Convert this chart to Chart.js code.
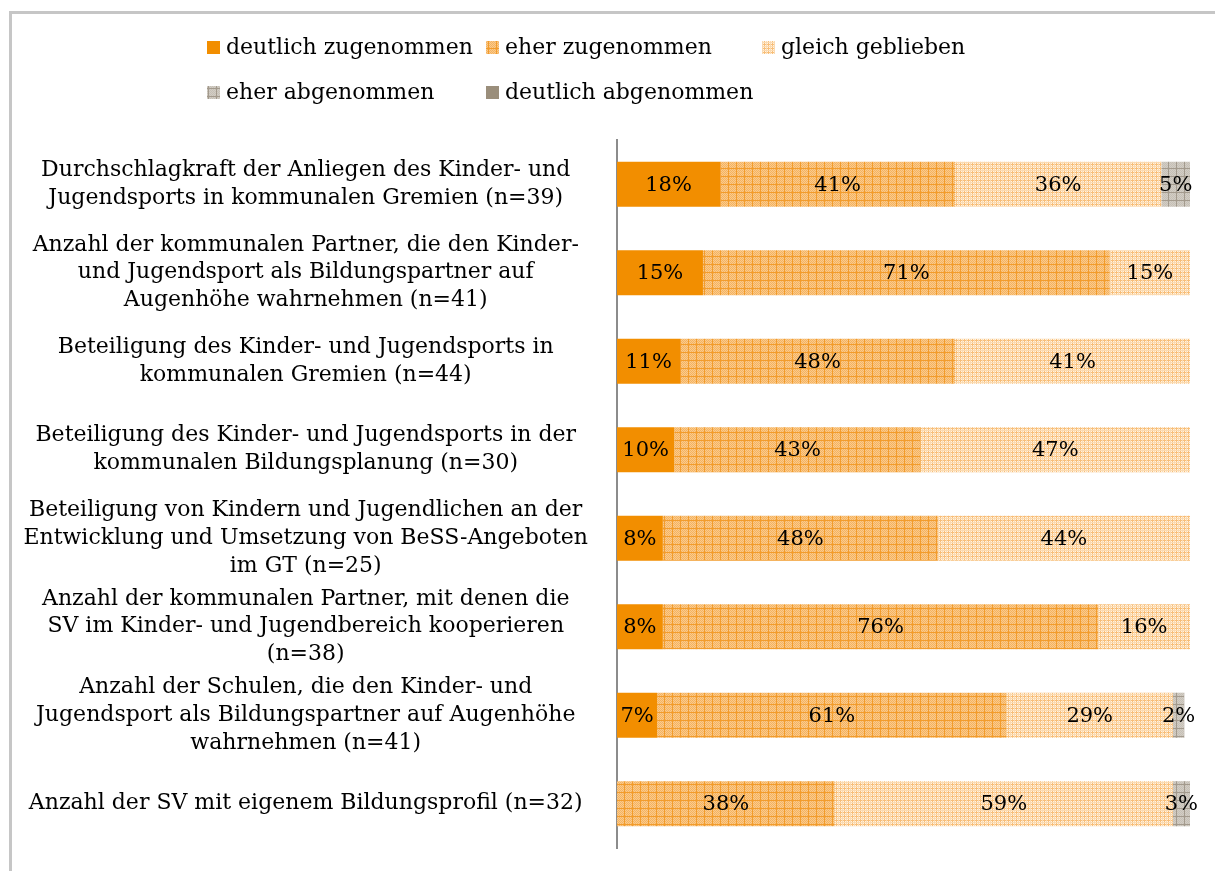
<!DOCTYPE html>
<html lang="de">
<head>
<meta charset="utf-8">
<title>Veränderungen in der kommunalen Zusammenarbeit</title>
<script src="https://cdn.jsdelivr.net/npm/chart.js@4.4.1/dist/chart.umd.min.js"></script>
<style>
  html, body { margin: 0; padding: 0; background: #ffffff; }
  #wrap { position: relative; width: 1215px; height: 871px; }
</style>
</head>
<body>
<div id="wrap"><canvas id="chart" width="1215" height="871"></canvas></div>
<script>
// Kategorien (jeweils zeilenweise umbrochen)
const categories = [
  ['Durchschlagkraft der Anliegen des Kinder- und', 'Jugendsports in kommunalen Gremien (n=39)'],
  ['Anzahl der kommunalen Partner, die den Kinder-', 'und Jugendsport als Bildungspartner auf', 'Augenhöhe wahrnehmen (n=41)'],
  ['Beteiligung des Kinder- und Jugendsports in', 'kommunalen Gremien (n=44)'],
  ['Beteiligung des Kinder- und Jugendsports in der', 'kommunalen Bildungsplanung (n=30)'],
  ['Beteiligung von Kindern und Jugendlichen an der', 'Entwicklung und Umsetzung von BeSS-Angeboten', 'im GT (n=25)'],
  ['Anzahl der kommunalen Partner, mit denen die', 'SV im Kinder- und Jugendbereich kooperieren', '(n=38)'],
  ['Anzahl der Schulen, die den Kinder- und', 'Jugendsport als Bildungspartner auf Augenhöhe', 'wahrnehmen (n=41)'],
  ['Anzahl der SV mit eigenem Bildungsprofil (n=32)']
];

const seriesNames = ['deutlich zugenommen', 'eher zugenommen', 'gleich geblieben', 'eher abgenommen', 'deutlich abgenommen'];

// Anteile in Prozent
const deutlichZugenommen = [18, 15, 11, 10, 8, 8, 7, 0];
const eherZugenommen     = [41, 71, 48, 43, 48, 76, 61, 38];
const gleichGeblieben    = [36, 15, 41, 47, 44, 16, 29, 59];
const eherAbgenommen     = [5, 0, 0, 0, 0, 0, 2, 3];
const deutlichAbgenommen = [0, 0, 0, 0, 0, 0, 0, 0];

const FONT = "'DejaVu Serif', serif";

// Musterfüllungen
function tile(size, paint) {
  const c = document.createElement('canvas');
  c.width = size; c.height = size;
  const g = c.getContext('2d');
  paint(g, size);
  return g.createPattern(c, 'repeat');
}

const fillDeutlichZu = '#F28E00';
const fillEherZu = tile(8, (g, s) => {
  g.fillStyle = '#F9CA8E';
  g.fillRect(0, 0, s, s);
  g.fillStyle = '#F6B35E';
  for (let y = 0; y < s; y++) for (let x = 0; x < s; x++) if ((x + y) % 2 === 0) g.fillRect(x, y, 1, 1);
  g.fillStyle = '#F29C2C';
  g.fillRect(0, 0, s, 1);
  g.fillRect(0, 0, 1, s);
});
const fillGleich = tile(4, (g, s) => {
  g.fillStyle = '#FFF3E2';
  g.fillRect(0, 0, s, s);
  g.fillStyle = '#F8BE78';
  g.fillRect(0, 0, s, 1);
  g.fillRect(0, 0, 1, s);
  g.fillStyle = '#FBDAB0';
  g.fillRect(0, 2, s, 1);
  g.fillRect(2, 0, 1, s);
});
const fillEherAb = tile(8, (g, s) => {
  g.fillStyle = '#D2CDC5';
  g.fillRect(0, 0, s, s);
  g.fillStyle = '#C6C0B6';
  for (let y = 0; y < s; y++) for (let x = 0; x < s; x++) if ((x + y) % 2 === 0) g.fillRect(x, y, 1, 1);
  g.fillStyle = '#A39A8D';
  g.fillRect(0, 0, s, 1);
  g.fillRect(0, 0, 1, s);
});
const fillDeutlichAb = '#9A8E7B';

const seriesData = [deutlichZugenommen, eherZugenommen, gleichGeblieben, eherAbgenommen, deutlichAbgenommen];
const seriesFills = [fillDeutlichZu, fillEherZu, fillGleich, fillEherAb, fillDeutlichAb];

// Rahmen und weißer Hintergrund
const frame = {
  id: 'frame',
  beforeDraw(chart) {
    const ctx = chart.ctx;
    ctx.save();
    ctx.fillStyle = '#ffffff';
    ctx.fillRect(0, 0, chart.width, chart.height);
    ctx.fillStyle = '#C6C6C6';
    ctx.fillRect(9, 11, chart.width, 3);
    ctx.fillRect(9, 11, 3, chart.height);
    ctx.restore();
  }
};

// Legende als Raster (zwei Zeilen, feste Spalten)
const gridLegend = {
  id: 'gridLegend',
  afterDraw(chart) {
    const ctx = chart.ctx;
    const cols = [207, 486, 762];
    const rows = [48, 93];
    const slots = [[0, 0], [1, 0], [2, 0], [0, 1], [1, 1]];
    ctx.save();
    ctx.font = '22px ' + FONT;
    ctx.textBaseline = 'middle';
    ctx.textAlign = 'left';
    chart.data.datasets.forEach((ds, i) => {
      const [c, r] = slots[i];
      const x = cols[c], y = rows[r];
      ctx.fillStyle = ds.backgroundColor;
      ctx.fillRect(x, y - 7, 13, 13);
      ctx.fillStyle = '#000000';
      ctx.fillText(ds.label, x + 19, y);
    });
    ctx.restore();
  }
};

// Prozentwerte in den Balkensegmenten
const valueLabels = {
  id: 'valueLabels',
  afterDatasetsDraw(chart) {
    const ctx = chart.ctx;
    const area = chart.chartArea;
    ctx.save();
    ctx.font = '21px ' + FONT;
    ctx.fillStyle = '#000000';
    ctx.textAlign = 'center';
    ctx.textBaseline = 'middle';
    chart.data.datasets.forEach((ds, di) => {
      const meta = chart.getDatasetMeta(di);
      meta.data.forEach((bar, i) => {
        const v = ds.data[i];
        if (!v) return;
        const left = Math.min(bar.base, bar.x);
        const right = Math.min(Math.max(bar.base, bar.x), area.right);
        ctx.fillText(v + '%', (left + right) / 2, bar.y + 1);
      });
    });
    ctx.restore();
  }
};

new Chart(document.getElementById('chart'), {
  type: 'bar',
  data: {
    labels: categories,
    datasets: seriesNames.map((name, i) => ({
      label: name,
      data: seriesData[i],
      backgroundColor: seriesFills[i],
      borderWidth: 0,
      categoryPercentage: 1,
      barPercentage: 0.51
    }))
  },
  options: {
    indexAxis: 'y',
    responsive: false,
    animation: false,
    layout: { padding: { top: 140, bottom: 23, left: 0, right: 25 } },
    plugins: {
      legend: { display: false },
      tooltip: { enabled: false }
    },
    scales: {
      x: {
        stacked: true,
        min: 0,
        max: 100,
        display: false
      },
      y: {
        stacked: true,
        grid: { display: false },
        border: { display: true, color: '#8C8C8C', width: 2 },
        ticks: {
          color: '#000000',
          font: { family: FONT, size: 22, lineHeight: 1.27 },
          crossAlign: 'center',
          padding: 21,
          autoSkip: false
        },
        afterFit(scale) {
          scale.width = 617;
          scale.paddingTop = 0;
          scale.paddingBottom = 0;
        }
      }
    }
  },
  plugins: [frame, gridLegend, valueLabels]
});
</script>
</body>
</html>
